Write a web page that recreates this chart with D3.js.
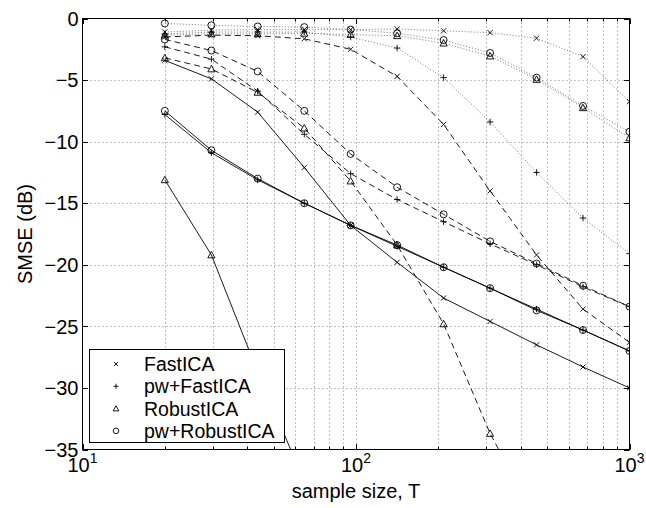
<!DOCTYPE html>
<html><head><meta charset="utf-8">
<script src="https://cdn.jsdelivr.net/npm/d3@7"></script>
<style>
html,body{margin:0;padding:0;background:#fff;}
svg{display:block;font-family:"Liberation Sans",Arial,Helvetica,sans-serif;}
</style></head>
<body><svg id="chart" width="646" height="508"></svg>
<script>
// ---- data ----
const sampleSizes = [20, 29.6, 43.7, 64.7, 95.6, 141.4, 209.1, 309.2, 457.3, 676.2, 1000];
const methods = ["FastICA", "pw+FastICA", "RobustICA", "pw+RobustICA"];
const markerTypes = ["x", "plus", "tri", "circle"];
const yTicks = [0, -5, -10, -15, -20, -25, -30, -35];
const yTickLabels = ["0", "\u22125", "\u221210", "\u221215", "\u221220", "\u221225", "\u221230", "\u221235"];
const xMajorTicks = [10, 100, 1000];
const xTickExponents = ["1", "2", "3"];

// solid lines
const fastSolid      = [-3.4, -4.9, -7.6, -12.1, -16.8, -19.8, -22.7, -24.6, -26.5, -28.3, -30.0];
const pwFastSolid    = [-7.8, -10.9, -13.1, -15.0, -16.8, -18.5, -20.2, -21.9, -23.6, -25.3, -27.0];
const robustSolid    = [-13.1, -19.2, -28.7, -37.6, null, null, null, null, null, null, null];
const pwRobustSolid  = [-7.5, -10.7, -13.0, -15.0, -16.8, -18.4, -20.2, -21.9, -23.7, -25.3, -27.0];
// dashed lines
const fastDashed     = [-1.5, -1.35, -1.4, -1.65, -2.5, -4.7, -8.6, -14.0, -19.2, -23.6, -26.3];
const pwFastDashed   = [-2.3, -3.3, -5.9, -9.4, -12.6, -14.7, -16.5, -18.3, -20.0, -21.8, -23.4];
const robustDashed   = [-3.2, -4.1, -6.0, -8.9, -13.2, -18.4, -24.8, -33.7, -40.7, null, null];
const pwRobustDashed = [-1.7, -2.6, -4.3, -7.5, -11.0, -13.7, -15.9, -18.1, -19.9, -21.7, -23.4];
// dotted lines
const fastDotted     = [-1.1, -0.95, -0.9, -0.9, -0.9, -0.85, -1.0, -1.15, -1.6, -3.1, -6.75];
const pwFastDotted   = [-1.25, -1.1, -1.1, -1.1, -1.5, -2.4, -4.8, -8.4, -12.5, -16.2, -19.1];
const robustDotted   = [-1.35, -1.25, -1.25, -1.2, -1.3, -1.4, -2.0, -3.05, -4.95, -7.25, -9.7];
const pwRobustDotted = [-0.4, -0.55, -0.65, -0.7, -0.9, -1.2, -1.75, -2.8, -4.8, -7.1, -9.2];

const series = [
  {v: fastSolid, m: 0, style: "solid"}, {v: pwFastSolid, m: 1, style: "solid"},
  {v: robustSolid, m: 2, style: "solid"}, {v: pwRobustSolid, m: 3, style: "solid"},
  {v: fastDashed, m: 0, style: "dashed"}, {v: pwFastDashed, m: 1, style: "dashed"},
  {v: robustDashed, m: 2, style: "dashed"}, {v: pwRobustDashed, m: 3, style: "dashed"},
  {v: fastDotted, m: 0, style: "dotted"}, {v: pwFastDotted, m: 1, style: "dotted"},
  {v: robustDotted, m: 2, style: "dotted"}, {v: pwRobustDotted, m: 3, style: "dotted"}
];

// ---- layout ----
const L = 82.5, R = 629.5, T = 18.5, B = 449.5;
const svg = d3.select("#chart");
const x = d3.scaleLog().domain([10, 1000]).range([L, R]);
const y = d3.scaleLinear().domain([-35, 0]).range([B, T]);

// minor x ticks
const xMinor = [];
[10, 100].forEach(d => { for (let k = 2; k <= 9; k++) xMinor.push(d * k); });

// grid
const grid = svg.append("g").attr("stroke", "#808080").attr("stroke-width", 1).attr("stroke-dasharray", "1,3");
xMinor.concat([100]).forEach(v => {
  const px = Math.round(x(v)) + 0.5;
  grid.append("line").attr("x1", px).attr("x2", px).attr("y1", T).attr("y2", B);
});
yTicks.filter(v => v !== 0 && v !== -35).forEach(v => {
  const py = Math.round(y(v)) + 0.5;
  grid.append("line").attr("x1", L).attr("x2", R).attr("y1", py).attr("y2", py);
});

// clip
svg.append("defs").append("clipPath").attr("id", "plotclip")
  .append("rect").attr("x", L).attr("y", T).attr("width", R - L).attr("height", B - T);

const plot = svg.append("g").attr("clip-path", "url(#plotclip)");
const line = d3.line().defined(d => d[1] != null).x(d => x(d[0])).y(d => y(d[1]));

const dashFor = {solid: null, dashed: "6,4", dotted: "1,2"};
const colorFor = {solid: "#000", dashed: "#000", dotted: "#666"};

series.forEach(s => {
  const pts = sampleSizes.map((t, i) => [t, s.v[i]]);
  plot.append("path").attr("d", line(pts)).attr("fill", "none")
    .attr("stroke", colorFor[s.style]).attr("stroke-width", 0.9)
    .attr("stroke-dasharray", dashFor[s.style]);
});

function drawMarker(g, type, cx, cy, sc) {
  const k = sc || 1;
  if (type === "x") {
    const r = 2.6 * k;
    g.append("path").attr("d", `M${cx - r},${cy - r}L${cx + r},${cy + r}M${cx - r},${cy + r}L${cx + r},${cy - r}`)
      .attr("stroke", "#000").attr("stroke-width", 0.9).attr("fill", "none");
  } else if (type === "plus") {
    const r = 3.2 * k;
    g.append("path").attr("d", `M${cx - r},${cy}L${cx + r},${cy}M${cx},${cy - r}L${cx},${cy + r}`)
      .attr("stroke", "#000").attr("stroke-width", 0.9).attr("fill", "none");
  } else if (type === "tri") {
    const r = 3.6 * k;
    g.append("path").attr("d", `M${cx},${cy - r}L${cx + r},${cy + r * 0.8}L${cx - r},${cy + r * 0.8}Z`)
      .attr("stroke", "#000").attr("stroke-width", 0.9).attr("fill", "none");
  } else {
    g.append("circle").attr("cx", cx).attr("cy", cy).attr("r", 3.5 * k)
      .attr("stroke", "#000").attr("stroke-width", 0.9).attr("fill", "none");
  }
}

series.forEach(s => {
  sampleSizes.forEach((t, i) => {
    const v = s.v[i];
    if (v == null || v < -35 || v > 0.5) return;
    drawMarker(plot, markerTypes[s.m], x(t), y(v), 1);
  });
});

// frame
svg.append("rect").attr("x", L).attr("y", T).attr("width", R - L).attr("height", B - T)
  .attr("fill", "none").attr("stroke", "#000").attr("stroke-width", 1);

// ticks (inward, all sides)
const ticks = svg.append("g").attr("stroke", "#000").attr("stroke-width", 1);
xMajorTicks.forEach(v => {
  const px = Math.round(x(v)) + 0.5;
  ticks.append("line").attr("x1", px).attr("x2", px).attr("y1", B).attr("y2", B - 5.5);
  ticks.append("line").attr("x1", px).attr("x2", px).attr("y1", T).attr("y2", T + 5.5);
});
xMinor.forEach(v => {
  const px = Math.round(x(v)) + 0.5;
  ticks.append("line").attr("x1", px).attr("x2", px).attr("y1", B).attr("y2", B - 3);
  ticks.append("line").attr("x1", px).attr("x2", px).attr("y1", T).attr("y2", T + 3);
});
yTicks.forEach(v => {
  const py = Math.round(y(v)) + 0.5;
  ticks.append("line").attr("x1", L).attr("x2", L + 5.5).attr("y1", py).attr("y2", py);
  ticks.append("line").attr("x1", R).attr("x2", R - 5.5).attr("y1", py).attr("y2", py);
});

// y tick labels
yTicks.forEach((v, i) => {
  svg.append("text").attr("x", L - 4).attr("y", y(v)).attr("dy", "0.36em")
    .attr("text-anchor", "end").attr("font-size", 20).attr("fill", "#000")
    .text(yTickLabels[i]);
});

// x tick labels (10^n)
xMajorTicks.forEach((v, i) => {
  const t = svg.append("text").attr("x", x(v)).attr("y", 472).attr("text-anchor", "middle")
    .attr("font-size", 20).attr("fill", "#000");
  t.append("tspan").text("10");
  t.append("tspan").attr("dy", -9).attr("font-size", 14).text(xTickExponents[i]);
});

// axis labels
svg.append("text").attr("x", (L + R) / 2).attr("y", 498).attr("text-anchor", "middle")
  .attr("font-size", 20).attr("fill", "#000").text("sample size, T");
svg.append("text").attr("transform", `translate(32,${(T + B) / 2}) rotate(-90)`)
  .attr("text-anchor", "middle").attr("font-size", 20).attr("fill", "#000").text("SMSE (dB)");

// legend
const lg = svg.append("g");
lg.append("rect").attr("x", 89.5).attr("y", 349.5).attr("width", 195).attr("height", 93)
  .attr("fill", "#fff").attr("stroke", "#000").attr("stroke-width", 1);
methods.forEach((name, i) => {
  const cy = 364 + i * 22.3;
  drawMarker(lg, markerTypes[i], 116, cy, 0.8);
  lg.append("text").attr("x", 144).attr("y", cy).attr("dy", "0.36em")
    .attr("font-size", 19.5).attr("fill", "#000").text(name);
});
</script>
</body></html>
